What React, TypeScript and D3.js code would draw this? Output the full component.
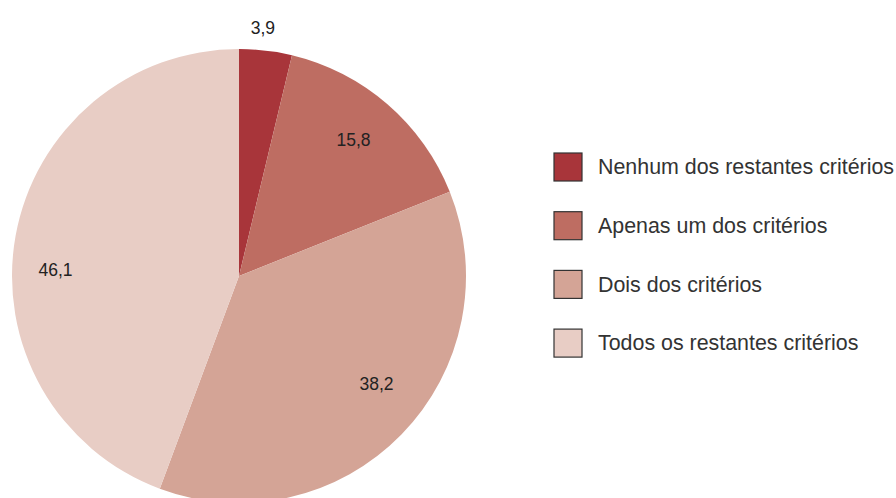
import React from "react";
import * as d3 from "d3";

const categories = [
  "Nenhum dos restantes critérios",
  "Apenas um dos critérios",
  "Dois dos critérios",
  "Todos os restantes critérios",
];
const values = [3.9, 15.8, 38.2, 46.1];
const labels = ["3,9", "15,8", "38,2", "46,1"];
const colors = ["#A8353A", "#BE6D62", "#D4A496", "#E8CDC5"];

const W = 896;
const H = 498;
const cx = 239;
const cy = 276;
const R = 227;

// label placement relative to each slice's mid-angle
const labelAngleOffsetDeg = [-1.25, -0.75, -6.2, -8.3];
const labelRadiusFactor = [1.1, 0.783, 0.77, 0.809];

export default function App() {
  const pie = d3.pie<number>().sort(null).value((d) => d);
  const arcs = pie(values);
  const arc = d3.arc<d3.PieArcDatum<number>>().innerRadius(0).outerRadius(R);
  const font = "'Liberation Sans', Arial, Helvetica, sans-serif";
  return (
    <svg
      width={W}
      height={H}
      style={{ position: "absolute", left: 0, top: 0, display: "block" }}
    >
      <rect width={W} height={H} fill="#ffffff" />
      <g transform={`translate(${cx},${cy})`}>
        {arcs.map((a, i) => (
          <path key={i} d={arc(a) || ""} fill={colors[i]} />
        ))}
        {arcs.map((a, i) => {
          const ang =
            (a.startAngle + a.endAngle) / 2 +
            (labelAngleOffsetDeg[i] * Math.PI) / 180;
          const r = R * labelRadiusFactor[i];
          const x = Math.sin(ang) * r;
          const y = -Math.cos(ang) * r;
          return (
            <text
              key={i}
              x={x}
              y={y}
              dy="0.36em"
              textAnchor="middle"
              fontFamily={font}
              fontSize={17.5}
              fill="#222"
            >
              {labels[i]}
            </text>
          );
        })}
      </g>
      <g transform="translate(554,153)">
        {categories.map((c, i) => (
          <g key={i} transform={`translate(0,${i * 58.7})`}>
            <rect
              x={0}
              y={0}
              width={28}
              height={28}
              fill={colors[i]}
              stroke="#333"
              strokeWidth={1.2}
            />
            <text
              x={44}
              y={14}
              dy="0.34em"
              fontFamily={font}
              fontSize={21.4}
              fill="#333"
            >
              {c}
            </text>
          </g>
        ))}
      </g>
    </svg>
  );
}
